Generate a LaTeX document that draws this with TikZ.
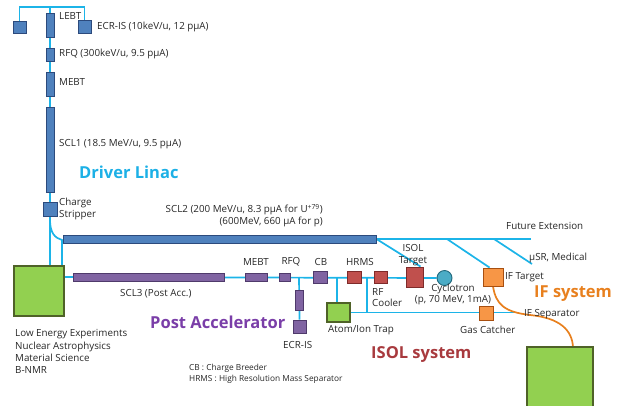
\documentclass[tikz,border=0pt]{standalone}
\usepackage{fontspec}
\setmainfont{Open Sans}
\usetikzlibrary{backgrounds}
\begin{document}
\begin{tikzpicture}[x=1pt,y=-1pt,
  lbl/.style={font=\fontsize{9.8}{11.5}\selectfont, text=black!85, inner sep=0pt},
  small/.style={font=\fontsize{8.3}{11}\selectfont, text=black!85, inner sep=0pt},
  big/.style={font=\fontsize{16.5}{18}\selectfont\bfseries, inner sep=0pt},
  beam/.style={draw=beamc, line width=1.7pt},
  box/.style={draw, line width=0.9pt, inner sep=0pt, minimum width=#1},
  dbox/.style={box=8pt, fill=dfill, draw=ddraw},
  pbox/.style={box=8pt, fill=pfill, draw=pdraw},
  rbox/.style={box=8pt, fill=rfill, draw=rdraw},
  gbox/.style={box=8pt, fill=gfill, draw=gdraw, line width=1.2pt},
  obox/.style={box=8pt, fill=ofill, draw=odraw},
]
\definecolor{beamc}{HTML}{1CB4E8}
\definecolor{dfill}{HTML}{4F81BD}\definecolor{ddraw}{HTML}{2C4A7C}
\definecolor{pfill}{HTML}{8064A2}\definecolor{pdraw}{HTML}{4F3A6B}
\definecolor{rfill}{HTML}{C0504D}\definecolor{rdraw}{HTML}{7F2B2A}
\definecolor{gfill}{HTML}{92D050}\definecolor{gdraw}{HTML}{4F6228}
\definecolor{ofill}{HTML}{F79646}\definecolor{odraw}{HTML}{A84F10}
\definecolor{cfill}{HTML}{4BACC6}\definecolor{cdraw}{HTML}{21687C}
\definecolor{tdriver}{HTML}{1CB0E6}
\definecolor{tpost}{HTML}{7A3EA8}
\definecolor{tisol}{HTML}{A83A3E}
\definecolor{tif}{HTML}{E8801E}
\useasboundingbox (0,0) rectangle (621,405);

% ---------- coordinates ----------
\coordinate (tp) at (50,7);
\coordinate (cs) at (50,220);
\coordinate (cj) at (62,240);
\coordinate (pl) at (64,277);
\coordinate (vr) at (299,277);
\coordinate (va) at (337,277);
\coordinate (vh) at (367,277);
\coordinate (vhb) at (367,312.5);
\coordinate (he) at (515,312.5);
\coordinate (fe) at (531,239);
\coordinate (d2) at (447,239);
\coordinate (d3) at (494,239);
\coordinate (d3e) at (532,264);
\coordinate (oc) at (530,315);
\coordinate (oe) at (573,347);

% ---------- nodes ----------
\node[dbox, minimum width=13pt, minimum height=12pt] (srcL) at (19.5,27) {};
\node[dbox, minimum height=24pt] (lebt) at (50,25) {};
\node[dbox, minimum width=13pt, minimum height=13pt] (ecr1) at (84.5,26.5) {};
\node[dbox, minimum height=13pt] (rfq1) at (50,54.5) {};
\node[dbox, minimum height=24pt] (mebt1) at (50,84) {};
\node[dbox, minimum height=85pt] (scl1) at (50,149.5) {};
\node[dbox, minimum width=14pt, minimum height=14pt] (strip) at (50,209) {};
\node[dbox, minimum width=313pt, minimum height=8pt] (scl2) at (219.5,239) {};

\node[gbox, minimum width=50pt, minimum height=50pt] (lowE) at (39,291) {};
\node[gbox, minimum width=66pt, minimum height=70pt] (ifG) at (560,382) {};
\node[gbox, minimum width=23pt, minimum height=19pt] (atom) at (338.5,312.5) {};

\node[pbox, minimum width=151pt, minimum height=8pt] (scl3) at (148.5,277) {};
\node[pbox, minimum width=22pt, minimum height=8pt] (mebt2) at (256,277) {};
\node[pbox, minimum width=11pt, minimum height=8pt] (rfq2) at (284.5,277) {};
\node[pbox, minimum width=14pt, minimum height=12pt] (cb) at (320,277) {};
\node[pbox, minimum width=8pt, minimum height=20pt] (pbar) at (299,300) {};
\node[pbox, minimum width=13pt, minimum height=13pt] (ecr2) at (299.5,326.5) {};

\node[rbox, minimum width=14pt, minimum height=12pt] (hrms) at (354,277) {};
\node[rbox, minimum width=13pt, minimum height=12pt] (rfc) at (380.5,277) {};
\node[rbox, minimum width=17pt, minimum height=20pt] (isol) at (414.5,277) {};

\node[circle, draw=cdraw, fill=cfill, line width=0.9pt, minimum size=15pt, inner sep=0pt] (cyc) at (444.5,278) {};

\node[obox, minimum width=20pt, minimum height=18pt] (ift) at (493,277) {};
\node[obox, minimum width=14pt, minimum height=14pt] (gas) at (486,313) {};

% ---------- connectors (behind boxes) ----------
\begin{scope}[on background layer]
\draw[beam] (srcL.north) |- (tp) -| (ecr1.north);
\draw[beam] (tp) -- (lowE.north -| tp);
\draw[beam] (cs) .. controls (50,233) and (55,238) .. (cj) -- (lowE.north -| cj);
\draw[beam] (pl) -- (cyc.west);
\draw[beam] (vr) -- (ecr2.north);
\draw[beam] (va) -- (atom.north -| va);
\draw[beam] (vh) -- (vhb);
\draw[beam] (atom.east) -- (he);
\draw[beam] (scl2.east) -- (fe);
\draw[beam] (scl2.east) -- (isol.60);
\draw[beam] (d2) -- (ift.110);
\draw[beam] (d3) -- (d3e);
\draw[draw=tif, line width=1.7pt] (ift.south) .. controls (496,305) and (505,312) .. (oc) .. controls (560,318) and (572,330) .. (oe);
\end{scope}

% ---------- labels ----------
\node[lbl, anchor=west] (tLEBT) at (59,16) {LEBT};
\node[lbl, anchor=west] (tECR1) at (97,27) {ECR-IS (10keV/u, 12 pμA)};
\node[lbl, anchor=west] (tRFQ1) at (59,54) {RFQ (300keV/u, 9.5 pμA)};
\node[lbl, anchor=west] (tMEBT1) at (59,82) {MEBT};
\node[lbl, anchor=west] (tSCL1) at (59,144) {SCL1 (18.5 MeV/u, 9.5 pμA)};
\node[big, anchor=west, text=tdriver] (tDL) at (79,172) {Driver Linac};
\node[lbl, anchor=west, align=left] (tCS) at (59,209) {Charge\\Stripper};
\node[lbl, anchor=east, align=right] (tSCL2) at (323,215.5) {SCL2 (200 MeV/u, 8.3 pμA for U\textsuperscript{+79})\\(600MeV, 660 μA for p)};
\node[lbl, anchor=west] (tFE) at (506,226) {Future Extension};
\node[lbl, anchor=west] (tMU) at (529,258) {μSR, Medical};
\node[lbl, anchor=west] (tIFT) at (505,277) {IF Target};
\node[big, anchor=west, text=tif] (tIFS) at (534,294) {IF system};
\node[lbl, anchor=west] (tIFSep) at (524,314) {IF Separator};
\node[lbl, align=center] (tISOL) at (413,255) {ISOL\\Target};
\node[lbl] (tMEBT2) at (256,262) {MEBT};
\node[lbl] (tRFQ2) at (291,262) {RFQ};
\node[lbl] (tCB) at (321,262) {CB};
\node[lbl] (tHRMS) at (360,262) {HRMS};
\node[lbl, anchor=west, align=left] (tRFC) at (372,297.5) {RF\\Cooler};
\node[lbl, align=center] (tCyc) at (453,294.5) {Cyclotron\\(p, 70 MeV, 1mA)};
\node[lbl, anchor=west] (tAtom) at (328,330) {Atom/Ion Trap};
\node[lbl, anchor=west] (tGas) at (460,330) {Gas Catcher};
\node[big, anchor=west, text=tisol] (tISS) at (371,354) {ISOL system};
\node[big, anchor=west, text=tpost] (tPA) at (150,322) {Post Accelerator};
\node[lbl, anchor=west] (tSCL3) at (120,294) {SCL3 (Post Acc.)};
\node[lbl, anchor=west] (tECR2) at (283,345) {ECR-IS};
\node[lbl, anchor=north west, align=left, font=\fontsize{9.8}{12.3}\selectfont] (tLow) at (15,329.5) {Low Energy Experiments\\Nuclear Astrophysics\\Material Science\\B-NMR};
\node[small, anchor=north west, align=left] (tLeg) at (189,364) {CB : Charge Breeder\\HRMS : High Resolution Mass Separator};
\end{tikzpicture}
\end{document}
